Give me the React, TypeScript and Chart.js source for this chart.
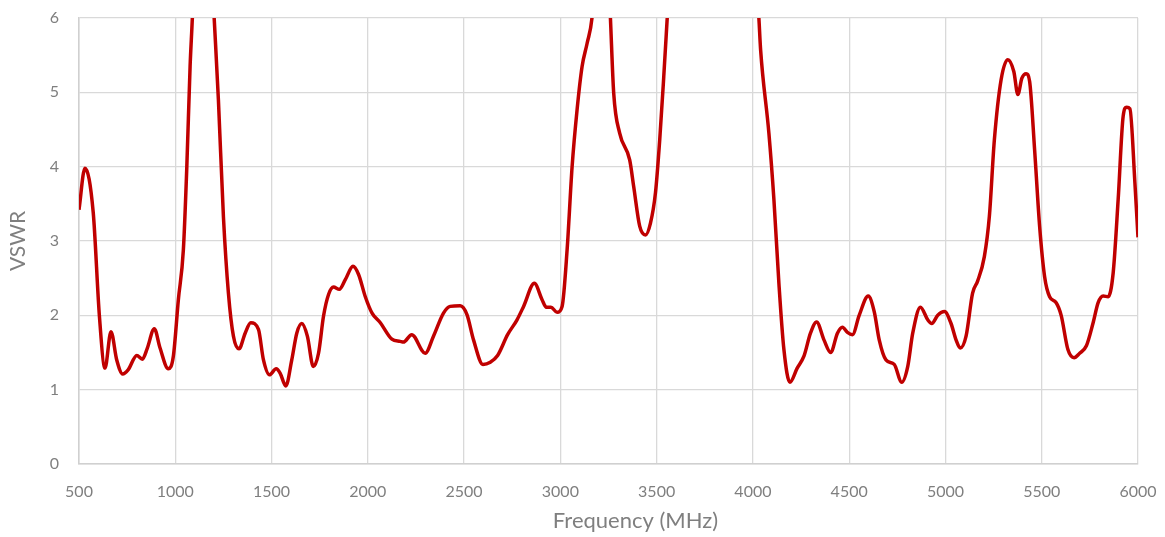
import React, { useEffect, useRef } from "react";
import { Chart, registerables, Plugin } from "chart.js";

Chart.register(...registerables);

// frequency points (MHz) and VSWR; values above 6 are clipped by the axis
const FREQ = [
  500, 531, 574, 606, 635, 666, 696, 727, 756, 800, 829, 855, 891, 921, 964, 990,
  1016, 1042, 1060, 1077, 1089, 1110, 1150, 1190, 1202, 1224, 1250, 1276, 1302,
  1331, 1363, 1392, 1432, 1458, 1489, 1524, 1545, 1574, 1605, 1631, 1657, 1686,
  1717, 1744, 1770, 1796, 1822, 1852, 1883, 1923, 1952, 1987, 2022, 2065, 2125,
  2168, 2185, 2228, 2298, 2341, 2393, 2428, 2480, 2515, 2549, 2598, 2636, 2674,
  2726, 2775, 2809, 2865, 2905, 2927, 2951, 2983, 3009, 3035, 3061, 3087, 3113,
  3139, 3165, 3190, 3220, 3250, 3260, 3277, 3308, 3360, 3381, 3412, 3442, 3468,
  3494, 3516, 3537, 3555, 3600, 3800, 3980, 4031, 4040, 4083, 4109, 4135, 4161,
  4192, 4230, 4265, 4299, 4331, 4369, 4404, 4439, 4465, 4491, 4517, 4552, 4599,
  4630, 4656, 4691, 4734, 4773, 4804, 4830, 4870, 4908, 4929, 4960, 4995, 5029,
  5055, 5077, 5107, 5141, 5167, 5202, 5228, 5254, 5289, 5324, 5355, 5376, 5397,
  5419, 5437, 5463, 5489, 5515, 5541, 5575, 5601, 5636, 5668, 5697, 5732, 5767,
  5793, 5819, 5845, 5871, 5897, 5923, 5941, 5958, 5984, 6000,
];

const VSWR = [
  3.42, 3.98, 3.38, 1.99, 1.29, 1.78, 1.4, 1.21, 1.27, 1.46, 1.41, 1.56, 1.82, 1.56, 1.28, 1.45,
  2.21, 2.88, 4.0, 5.35, 6.02, 7.5, 8.5, 6.6, 6.0, 4.9, 3.33, 2.3, 1.72,
  1.55, 1.76, 1.9, 1.81, 1.4, 1.2, 1.28, 1.22, 1.05, 1.4, 1.76, 1.89, 1.72,
  1.31, 1.49, 1.99, 2.28, 2.38, 2.35, 2.48, 2.66, 2.55, 2.25, 2.03, 1.9, 1.68,
  1.65, 1.64, 1.74, 1.49, 1.72, 2.03, 2.12, 2.13, 2.01, 1.67, 1.34, 1.37, 1.46,
  1.74, 1.94, 2.12, 2.43, 2.21, 2.11, 2.11, 2.04, 2.12, 2.88, 4.0, 4.77, 5.35,
  5.66, 6.02, 7.0, 7.5, 6.6, 6.0, 4.99, 4.45, 4.09, 3.73, 3.2, 3.08, 3.24,
  3.65, 4.36, 5.21, 6.0, 8, 10, 8, 6.0, 5.57, 4.45, 3.56, 2.43, 1.54,
  1.1, 1.29, 1.45, 1.76, 1.91, 1.67, 1.5, 1.76, 1.84, 1.77, 1.74, 2.0, 2.26,
  2.05, 1.67, 1.4, 1.34, 1.1, 1.31, 1.76, 2.11, 1.94, 1.89, 2.0, 2.05, 1.89,
  1.67, 1.56, 1.72, 2.3, 2.46, 2.79, 3.33, 4.36, 5.17, 5.44, 5.28, 4.97, 5.19,
  5.25, 5.15, 4.23, 3.2, 2.52, 2.25, 2.17, 2.0, 1.54, 1.43, 1.49, 1.59, 1.9,
  2.17, 2.26, 2.25, 2.57, 3.56, 4.68, 4.8, 4.78, 3.78, 3.05,
];

const X_MIN = 500;
const X_MAX = 6000;
const X_STEP = 500;
const Y_MIN = 0;
const Y_MAX = 6;
const Y_STEP = 1;

const X_TITLE = "Frequency (MHz)";
const FONT = "Lato, 'Open Sans', sans-serif";
const TEXT = "#7f7f7f";
const GRID = "#d9d9d9";

// x-axis title sits a little right of the axis centre in the original
const xTitlePlugin: Plugin = {
  id: "xTitle",
  afterDraw(chart) {
    const { ctx, chartArea } = chart;
    ctx.save();
    ctx.font = `22px ${FONT}`;
    ctx.fillStyle = TEXT;
    ctx.textAlign = "center";
    ctx.textBaseline = "middle";
    ctx.fillText(X_TITLE, (chartArea.left + chartArea.right) / 2 + 27, 521);
    ctx.restore();
  },
};

export default function App() {
  const canvasRef = useRef<HTMLCanvasElement>(null);
  const chartRef = useRef<Chart | null>(null);

  useEffect(() => {
    if (!canvasRef.current) return;
    chartRef.current?.destroy();

    chartRef.current = new Chart(canvasRef.current, {
      type: "line",
      data: {
        datasets: [
          {
            label: "VSWR",
            data: FREQ.map((f, i) => ({ x: f, y: VSWR[i] })),
            borderColor: "#C00000",
            borderWidth: 3.5,
            pointRadius: 0,
            cubicInterpolationMode: "monotone",
            fill: false,
          },
        ],
      },
      options: {
        animation: false,
        responsive: true,
        maintainAspectRatio: false,
        layout: { padding: { top: 18, right: 27, left: 0, bottom: 0 } },
        plugins: { legend: { display: false }, tooltip: { enabled: false } },
        scales: {
          x: {
            type: "linear",
            min: X_MIN,
            max: X_MAX,
            afterFit: (s: any) => {
              s.height = 73;
              s.paddingLeft = 0;
              s.paddingRight = 0;
            },
            ticks: {
              stepSize: X_STEP,
              color: TEXT,
              font: { family: FONT, size: 16 },
              padding: 18,
              maxRotation: 0,
              callback: (v) => String(v),
            },
            grid: { color: GRID, lineWidth: 1.3, drawTicks: false },
            border: { color: "#d0d0d0", width: 1.5 },
          },
          y: {
            min: Y_MIN,
            max: Y_MAX,
            afterFit: (s: any) => {
              s.width = 79;
              s.paddingTop = 0;
              s.paddingBottom = 0;
            },
            ticks: {
              stepSize: Y_STEP,
              color: TEXT,
              font: { family: FONT, size: 16 },
              padding: 20,
            },
            grid: { color: GRID, lineWidth: 1.3, drawTicks: false },
            border: { color: "#d0d0d0", width: 1.5 },
            title: {
              display: true,
              text: "VSWR",
              color: TEXT,
              font: { family: FONT, size: 21 },
              padding: { top: 6, bottom: 0 },
            },
          },
        },
      },
      plugins: [xTitlePlugin],
    });

    return () => {
      chartRef.current?.destroy();
      chartRef.current = null;
    };
  }, []);

  return (
    <div
      style={{
        position: "fixed",
        left: 0,
        top: 0,
        width: 1165,
        height: 537,
        background: "#fff",
      }}
    >
      <canvas ref={canvasRef} role="img" aria-label="VSWR versus frequency" />
    </div>
  );
}
